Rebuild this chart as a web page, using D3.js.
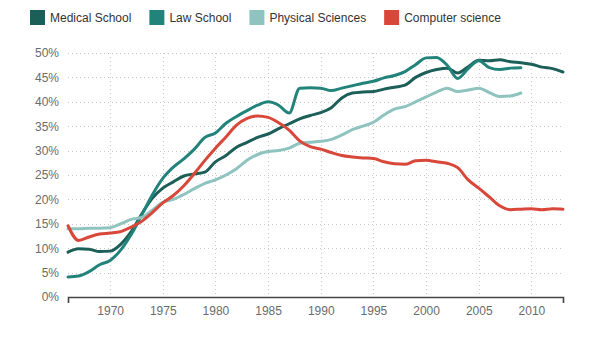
<!DOCTYPE html>
<html>
<head>
<meta charset="utf-8">
<script src="https://cdn.jsdelivr.net/npm/d3@7"></script>
<style>
  body { margin: 0; background: #fff; }
  svg { display: block; font-family: "Liberation Sans", Arial, sans-serif; }
</style>
</head>
<body>
<svg id="chart" width="598" height="340"></svg>
<script>
// share of women among graduates, by year
const years = d3.range(1966, 2014);

const medicalSchool = [
  9.2, 9.9, 9.8, 9.3, 9.4, 10.8, 13.4, 17.0, 20.2, 22.3,
  23.6, 24.8, 25.2, 25.6, 27.7, 29.0, 30.7, 31.7, 32.7, 33.4,
  34.5, 35.5, 36.5, 37.2, 37.8, 38.8, 40.8, 41.8, 42.0, 42.1,
  42.6, 43.0, 43.4, 45.0, 46.0, 46.6, 46.9, 45.9, 47.2, 48.5,
  48.4, 48.6, 48.2, 48.0, 47.7, 47.1, 46.8, 46.1
];

const lawSchool = [
  4.1, 4.3, 5.2, 6.6, 7.5, 9.6, 12.8, 16.8, 20.9, 24.3,
  26.6, 28.3, 30.3, 32.7, 33.6, 35.6, 37.0, 38.2, 39.3, 40.0,
  39.3, 37.7, 42.8, 42.9, 42.8, 42.3, 42.8, 43.3, 43.8, 44.2,
  44.9, 45.4, 46.2, 47.6, 49.0, 49.1, 47.5, 44.8, 46.8, 48.4,
  47.0, 46.6, 46.9, 47.0
];

const physicalSciences = [
  14.0, 14.0, 14.1, 14.1, 14.2, 15.0, 15.9, 16.3, 17.8, 19.4,
  20.0, 21.0, 22.2, 23.3, 24.0, 25.0, 26.3, 28.0, 29.2, 29.8,
  30.0, 30.5, 31.5, 31.7, 31.9, 32.3, 33.2, 34.3, 35.0, 35.8,
  37.3, 38.5, 39.0, 40.0, 41.0, 42.0, 42.8, 42.1, 42.4, 42.8,
  41.9, 41.1, 41.2, 41.8
];

const computerScience = [
  14.6, 11.6, 12.3, 12.9, 13.1, 13.4, 14.3, 15.5, 17.3, 19.3,
  20.8, 22.8, 25.3, 28.0, 30.5, 32.8, 35.2, 36.6, 37.1, 36.8,
  35.7, 34.2, 32.0, 30.8, 30.3, 29.6, 29.0, 28.7, 28.5, 28.4,
  27.7, 27.3, 27.2, 27.9, 28.0, 27.7, 27.4, 26.5, 24.0, 22.3,
  20.5, 18.7, 17.9, 18.0, 18.1, 17.9, 18.1, 18.0
];

const seriesNames = ["Medical School", "Law School", "Physical Sciences", "Computer science"];
const seriesValues = [medicalSchool, lawSchool, physicalSciences, computerScience];
const seriesColors = ["#1c5f58", "#22837b", "#8fc3bf", "#d9473a"];

const yTicks = d3.range(0, 51, 5);
const xTicks = [1970, 1975, 1980, 1985, 1990, 1995, 2000, 2005, 2010];

const width = 598, height = 340;
const margin = { top: 53, right: 35, bottom: 43, left: 68 };
const chartWidth = width - margin.left - margin.right;
const chartHeight = height - margin.top - margin.bottom;

const svg = d3.select("#chart");

const x = d3.scaleLinear()
  .domain([1966, 2013])
  .range([0, chartWidth]);

const y = d3.scaleLinear()
  .domain([0, 50])
  .range([chartHeight, 0]);

const container = svg.append("g")
  .attr("transform", `translate(${margin.left},${margin.top})`);

// dotted grid
container.append("g")
  .selectAll("line")
  .data(yTicks.filter(d => d > 0))
  .enter().append("line")
  .attr("x1", 0)
  .attr("x2", chartWidth)
  .attr("y1", d => Math.round(y(d)) + 0.5)
  .attr("y2", d => Math.round(y(d)) + 0.5)
  .attr("stroke", "#c8c8c8")
  .attr("stroke-dasharray", "1,3");

container.append("g")
  .selectAll("line")
  .data(xTicks)
  .enter().append("line")
  .attr("x1", d => Math.round(x(d)) + 0.5)
  .attr("x2", d => Math.round(x(d)) + 0.5)
  .attr("y1", 0)
  .attr("y2", chartHeight)
  .attr("stroke", "#c8c8c8")
  .attr("stroke-dasharray", "1,3");

// Y Axis (labels only)
const yAxis = container.append("g")
  .call(d3.axisLeft(y).tickValues(yTicks).tickFormat(d => d + "%").tickSize(0).tickPadding(9));
yAxis.select(".domain").remove();
yAxis.selectAll("text")
  .attr("fill", "#6b6b6b")
  .style("font-size", "12px")
  .style("font-family", "Liberation Sans, Arial, sans-serif");

// X Axis
const xAxis = container.append("g")
  .attr("transform", `translate(0,${chartHeight})`)
  .call(d3.axisBottom(x).tickValues(xTicks).tickFormat(d3.format("d"))
    .tickSizeInner(0).tickSizeOuter(6).tickPadding(9));
xAxis.select(".domain")
  .attr("stroke", "#444")
  .attr("stroke-width", 1.6);
xAxis.selectAll("text")
  .attr("fill", "#6b6b6b")
  .style("font-size", "12px")
  .style("font-family", "Liberation Sans, Arial, sans-serif");

// Lines
const line = d3.line()
  .x(d => x(d.year))
  .y(d => y(d.value))
  .curve(d3.curveMonotoneX);

seriesValues.forEach((values, i) => {
  const points = values.map((v, j) => ({ year: years[j], value: v }));
  container.append("path")
    .datum(points)
    .attr("fill", "none")
    .attr("stroke", seriesColors[i])
    .attr("stroke-width", 3)
    .attr("stroke-linejoin", "round")
    .attr("stroke-linecap", "round")
    .attr("d", line);
});

// Legend
const legend = svg.append("g").attr("transform", "translate(30,10)");
let lx = 0;
seriesNames.forEach((name, i) => {
  const item = legend.append("g").attr("transform", `translate(${lx},0)`);
  item.append("rect")
    .attr("width", 15)
    .attr("height", 15)
    .attr("fill", seriesColors[i]);
  const label = item.append("text")
    .attr("x", 20)
    .attr("y", 12)
    .attr("fill", "#333")
    .style("font-size", "12px")
    .text(name);
  lx += 20 + label.node().getComputedTextLength() + 18;
});
</script>
</body>
</html>
